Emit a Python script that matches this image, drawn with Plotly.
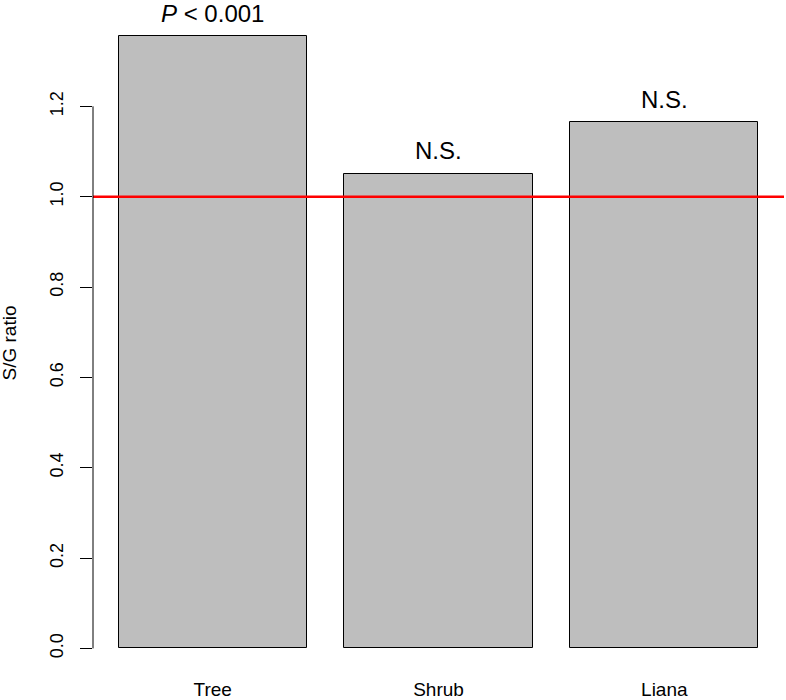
import plotly.graph_objects as go

categories = ["Tree", "Shrub", "Liana"]
sg_ratio = [1.355, 1.051, 1.165]
labels = ["<i>P</i> < 0.001", "N.S.", "N.S."]
y_ticks = [0.0, 0.2, 0.4, 0.6, 0.8, 1.0, 1.2]
reference_value = 1.0

bar_width = 1.0
space = 0.2
x_pos = [space + i * (bar_width + space) + bar_width / 2 for i in range(len(categories))]
x_min = space
x_max = len(categories) * (bar_width + space)
pad = 0.04 * (x_max - x_min)

FONT = "Liberation Sans, Arial, sans-serif"

fig = go.Figure()
fig.add_trace(go.Bar(
    x=x_pos, y=sg_ratio, width=bar_width,
    marker=dict(color="#BEBEBE", line=dict(color="black", width=1)),
    showlegend=False, hoverinfo="skip",
))

for xp, val, lab in zip(x_pos, sg_ratio, labels):
    fig.add_annotation(x=xp, y=val, text=lab, showarrow=False,
                       yanchor="middle", yshift=23,
                       font=dict(family=FONT, size=24, color="black"))

# red reference line
fig.add_shape(type="line", xref="paper", x0=0, x1=1, yref="y",
              y0=reference_value, y1=reference_value,
              line=dict(color="#FF0000", width=2.5))

# y axis line only over tick range (R style)
fig.add_shape(type="line", xref="paper", x0=0, x1=0, yref="y",
              y0=min(y_ticks), y1=max(y_ticks),
              line=dict(color="black", width=1))

fig.add_annotation(xref="paper", yref="paper", x=0, y=0.5, xshift=-84,
                   xanchor="center", yanchor="middle",
                   text="S/G ratio", textangle=-90, showarrow=False,
                   font=dict(family=FONT, size=19, color="black"))

fig.update_layout(
    width=786, height=700,
    margin=dict(l=93, r=2, t=16, b=29, autoexpand=False),
    plot_bgcolor="white", paper_bgcolor="white",
    font=dict(family=FONT, color="black"),
    bargap=0,
)
fig.update_xaxes(
    automargin=False,
    range=[x_min - pad, x_max + pad],
    tickvals=x_pos, ticktext=categories,
    showline=False, ticks="", showgrid=False, zeroline=False,
    tickfont=dict(family=FONT, size=19, color="black"),
    ticklabelstandoff=5,
)
fig.update_yaxes(
    automargin=False,
    range=[-0.05, 1.40],
    tickvals=y_ticks, ticktext=[f"{v:.1f}" for v in y_ticks],
    tickangle=-90,
    ticks="outside", ticklen=12, tickcolor="black", tickwidth=1,
    showline=False, showgrid=False, zeroline=False,
    tickfont=dict(family=FONT, size=18, color="black"),
    ticklabelstandoff=10,
)

fig.write_html("out.html", config={"displayModeBar": False},
               post_script="document.body.style.margin='0';document.body.style.overflow='hidden';")
